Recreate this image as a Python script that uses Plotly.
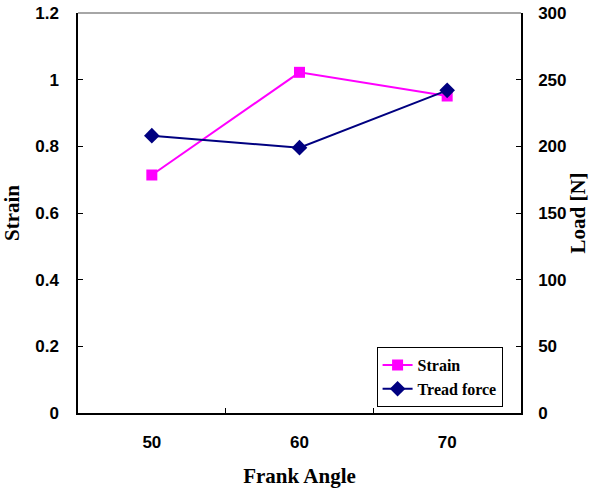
import plotly.graph_objects as go

angles = ["50", "60", "70"]
strain = [0.714, 1.022, 0.951]
tread_force = [208, 199, 242]

fig = go.Figure()
fig.add_trace(go.Scatter(
    x=angles, y=strain, name="Strain", mode="lines+markers",
    line=dict(color="#FF00FF", width=2),
    marker=dict(symbol="square", size=11, color="#FF00FF"),
))
fig.add_trace(go.Scatter(
    x=angles, y=tread_force, name="Tread force", mode="lines+markers", yaxis="y2",
    line=dict(color="#000080", width=2),
    marker=dict(symbol="diamond", size=12, color="#000080"),
))

tickfont = dict(family="Liberation Sans, Arial", size=17, color="black", weight="bold")
titlefont = dict(family="Liberation Serif, Times New Roman", size=21, color="black", weight="bold")

fig.update_layout(
    width=590, height=488,
    margin=dict(l=78, r=69, t=13, b=75),
    plot_bgcolor="white", paper_bgcolor="white",
    showlegend=True,
    legend=dict(
        x=0.674, y=0.165, xanchor="left", yanchor="top",
        bgcolor="white", bordercolor="black", borderwidth=1,
        font=dict(family="Liberation Serif, Times New Roman", size=16, color="black", weight="bold"),
        tracegroupgap=0,
    ),
    xaxis=dict(
        type="category", range=[-0.5, 2.5], automargin=False,
        showline=True, linecolor="black", linewidth=1.5,
        ticks="inside", tickson="boundaries", ticklen=5, tickcolor="black",
        showgrid=False, zeroline=False,
        tickfont=tickfont, ticklabelstandoff=13,
        title=dict(text="Frank Angle", font=titlefont, standoff=18),
    ),
    yaxis=dict(
        range=[0, 1.2], dtick=0.2, tickformat="~g", automargin=False,
        showline=True, linecolor="black", linewidth=1.5,
        ticks="inside", ticklen=5, tickcolor="black",
        showgrid=False, zeroline=False,
        tickfont=tickfont, ticklabelstandoff=14,
        title=dict(text="Strain", font=titlefont, standoff=12),
    ),
    yaxis2=dict(
        range=[0, 300], dtick=50, overlaying="y", side="right", automargin=False,
        showline=True, linecolor="black", linewidth=1.5,
        ticks="inside", ticklen=5, tickcolor="black",
        showgrid=False, zeroline=False,
        tickfont=tickfont, ticklabelstandoff=12,
        title=dict(text="Load [N]", font=titlefont, standoff=10),
    ),
    shapes=[dict(type="line", xref="paper", yref="paper", x0=0, x1=1, y0=1, y1=1,
                 line=dict(color="#888888", width=1.5))],
)

fig.write_html("out.html")
